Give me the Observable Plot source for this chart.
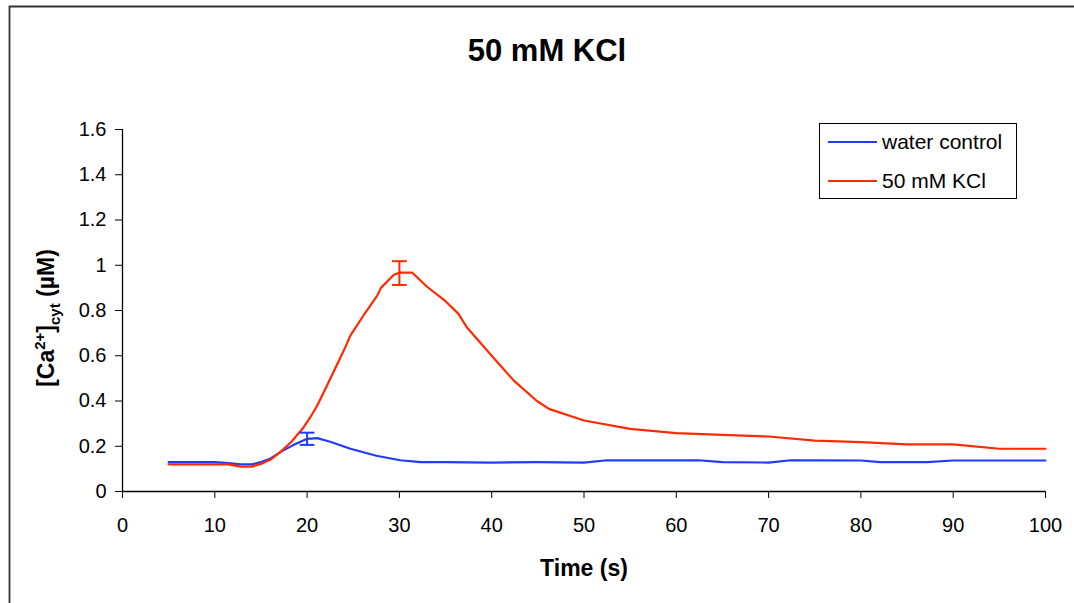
<!DOCTYPE html>
<html><head><meta charset="utf-8">
<script src="https://cdn.jsdelivr.net/npm/d3@7"></script>
<script src="https://cdn.jsdelivr.net/npm/@observablehq/plot@0.6"></script>
<style>
html,body{margin:0;padding:0;background:#fff;overflow:hidden;}
#wrap{position:relative;width:1074px;height:603px;font-family:"Liberation Sans",Arial,sans-serif;}
#legend{position:absolute;left:819px;top:123px;width:198px;height:76px;border:1px solid #000;box-sizing:border-box;background:#fff;}
#legend .sw{position:absolute;left:8px;width:49px;height:0;border-top:2px solid;}
#legend .lb{position:absolute;left:62px;font-size:21px;line-height:24px;color:#000;white-space:nowrap;}
</style></head>
<body><div id="wrap"></div>
<script>
// ---- data ----
const seriesNames = ["water control", "50 mM KCl"];
const seriesColors = ["#1e3cff", "#ff2a00"];

const waterTime  = [5, 10, 11.5, 12.8, 14, 15, 16, 17.1, 18.5, 20, 21.1, 22.5, 24.7, 27.5, 30.1, 32.3, 35, 40, 45, 50, 52.5, 55, 60, 62.4, 65, 70, 72.4, 75, 80, 82.1, 87.2, 90, 95, 100];
const waterValue = [0.13, 0.13, 0.125, 0.12, 0.12, 0.13, 0.145, 0.174, 0.205, 0.233, 0.236, 0.22, 0.189, 0.158, 0.138, 0.13, 0.13, 0.128, 0.13, 0.128, 0.138, 0.138, 0.138, 0.138, 0.13, 0.128, 0.138, 0.138, 0.137, 0.13, 0.13, 0.137, 0.137, 0.137];

const kclTime  = [5, 10, 11.5, 12.8, 14, 15, 16, 17.1, 18.3, 19.5, 20.3, 21.1, 22, 23, 24, 24.7, 26.3, 27.6, 28, 29.4, 30, 31.4, 33, 35, 36.4, 37.3, 40, 42.4, 44.9, 46.2, 50, 55, 60, 65, 70, 75, 80, 85, 90, 95, 100];
const kclValue = [0.12, 0.12, 0.12, 0.11, 0.11, 0.122, 0.14, 0.174, 0.22, 0.277, 0.325, 0.38, 0.455, 0.54, 0.625, 0.69, 0.79, 0.866, 0.9, 0.958, 0.967, 0.967, 0.905, 0.841, 0.785, 0.726, 0.6, 0.49, 0.4, 0.365, 0.314, 0.277, 0.258, 0.25, 0.243, 0.225, 0.218, 0.208, 0.208, 0.189, 0.189];

const errTime   = [20, 30];
const errLow    = [0.206, 0.913];
const errHigh   = [0.26, 1.018];
const errSeries = [0, 1];

const xTicks = [0, 10, 20, 30, 40, 50, 60, 70, 80, 90, 100];
const yTicks = [0, 0.2, 0.4, 0.6, 0.8, 1, 1.2, 1.4, 1.6];
const yTickLabels = ["0", "0.2", "0.4", "0.6", "0.8", "1", "1.2", "1.4", "1.6"];

const titleText = "50 mM KCl";
const xLabelText = "Time (s)";

// ---- build tables ----
const water = waterTime.map((t, i) => ({t, v: waterValue[i]}));
const kcl = kclTime.map((t, i) => ({t, v: kclValue[i]}));
const errs = errTime.map((t, i) => ({t, lo: errLow[i], hi: errHigh[i], c: seriesColors[errSeries[i]]}));
const capHalf = 0.8;

const plot = Plot.plot({
  width: 1074, height: 603,
  marginLeft: 122, marginRight: 29, marginTop: 129, marginBottom: 112,
  style: {fontFamily: '"Liberation Sans", Arial, sans-serif', fontSize: "20px", color: "#000", background: "transparent"},
  x: {domain: [0, 100], ticks: xTicks, tickSize: 7, tickPadding: 19, label: null},
  y: {domain: [0, 1.6], ticks: yTicks, tickSize: 7, tickPadding: 9, label: null,
      tickFormat: d => yTickLabels[yTicks.findIndex(v => Math.abs(v - d) < 1e-9)]},
  marks: [
    Plot.ruleY([0], {stroke: "#000", strokeWidth: 1.3}),
    Plot.ruleX([0], {stroke: "#000", strokeWidth: 1.3}),
    Plot.line(water, {x: "t", y: "v", stroke: seriesColors[0], strokeWidth: 2.2, strokeLinejoin: "round"}),
    Plot.line(kcl, {x: "t", y: "v", stroke: seriesColors[1], strokeWidth: 2.2, strokeLinejoin: "round"}),
    Plot.ruleX(errs, {x: "t", y1: "lo", y2: "hi", stroke: "c", strokeWidth: 2}),
    Plot.link(errs, {x1: d => d.t - capHalf, x2: d => d.t + capHalf, y1: "lo", y2: "lo", stroke: "c", strokeWidth: 2}),
    Plot.link(errs, {x1: d => d.t - capHalf, x2: d => d.t + capHalf, y1: "hi", y2: "hi", stroke: "c", strokeWidth: 2})
  ]
});

const wrap = document.getElementById("wrap");
wrap.appendChild(plot);
const svg = d3.select(plot);

// outer frame (cropped figure border)
svg.append("path").attr("d", "M9.5,603V6.5H1074").attr("fill", "none").attr("stroke", "#333").attr("stroke-width", 1.8);

// title
svg.append("text").attr("x", 547).attr("y", 50).attr("text-anchor", "middle").attr("dominant-baseline", "central")
  .attr("font-size", 31).attr("font-weight", "bold").attr("fill", "#000").text(titleText);

// x label
svg.append("text").attr("x", 584).attr("y", 568).attr("text-anchor", "middle").attr("dominant-baseline", "central")
  .attr("font-size", 23).attr("font-weight", "bold").attr("fill", "#000").text(xLabelText);

// y label with super/subscripts
const yl = svg.append("text").attr("transform", "translate(54,318) rotate(-90)").attr("text-anchor", "middle")
  .attr("font-size", 23).attr("font-weight", "bold").attr("fill", "#000");
yl.append("tspan").text("[Ca");
yl.append("tspan").attr("font-size", 15).attr("dy", -9).text("2+");
yl.append("tspan").attr("dy", 9).text("]");
yl.append("tspan").attr("font-size", 15).attr("dy", 6).text("cyt");
yl.append("tspan").attr("dy", -6).text(" (\u00B5M)");

// legend
const lg = document.createElement("div");
lg.id = "legend";
seriesNames.forEach((name, i) => {
  const cy = i === 0 ? 18 : 57;
  const sw = document.createElement("div");
  sw.className = "sw"; sw.style.top = (cy - 1) + "px"; sw.style.borderTopColor = seriesColors[i];
  const lb = document.createElement("div");
  lb.className = "lb"; lb.style.top = (cy - 12) + "px"; lb.textContent = name;
  lg.appendChild(sw); lg.appendChild(lb);
});
wrap.appendChild(lg);
</script>
</body></html>
